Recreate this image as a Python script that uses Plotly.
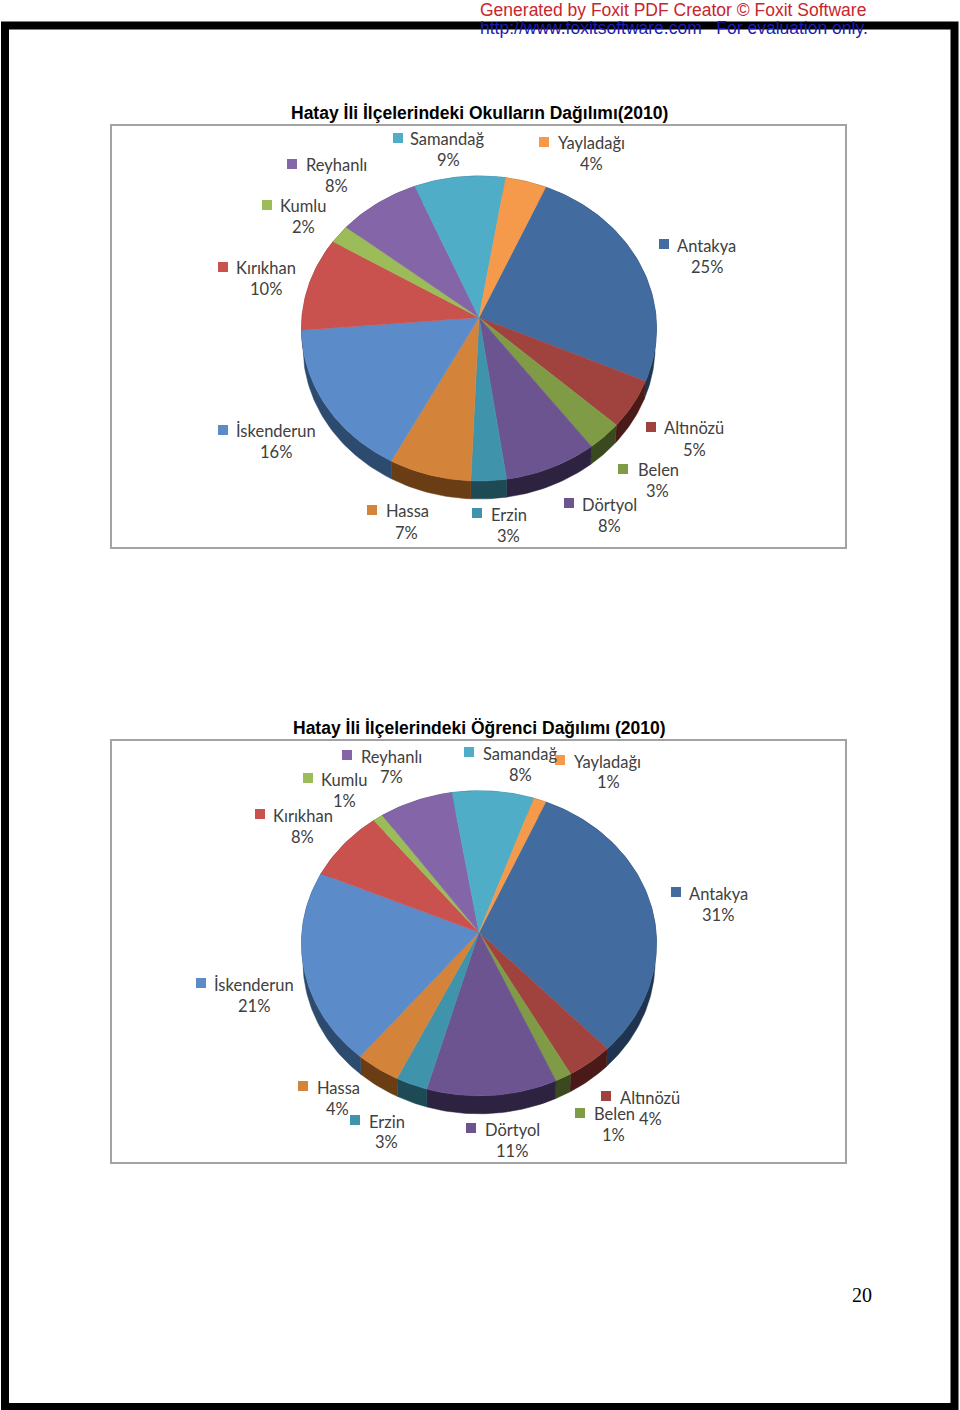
import math
import plotly.graph_objects as go

# districts in clockwise drawing order, starting from Antakya
districts = ['Antakya', 'Altınözü', 'Belen', 'Dörtyol', 'Erzin', 'Hassa',
             'İskenderun', 'Kırıkhan', 'Kumlu', 'Reyhanlı', 'Samandağ', 'Yayladağı']

school_share = [25.1, 5.1, 3.0, 7.9, 3.0, 7.0, 16.0, 10.0, 2.0, 8.0, 8.9, 4.0]
student_share = [31.4, 4.0, 1.4, 11.1, 2.7, 3.8, 20.6, 7.7, 1.0, 7.2, 8.0, 1.2]

top_colors = ['#426c9f', '#a0433f', '#7f9b45', '#6c5490', '#3f93ab', '#d4833b',
              '#5b8bc9', '#c9524f', '#9bbc59', '#8466a8', '#4fadc8', '#f5994a']
wall_colors = ['#1f3450', '#4a1a18', '#3b4a1e', '#2d2240', '#1e4a56', '#6a3d14',
               '#2d4a6f', '#6e2c2a', '#55682f', '#473860', '#2a6070', '#8a5525']

# legend anchors per chart: key x, y, name left x, name y, percent centre x, percent y
school_labels = [(664, 244, 677, 246, 707, 267), (651, 427, 664, 428, 694, 450),
                 (623, 469, 638, 470, 657, 491), (569, 503, 582, 505, 609, 526),
                 (477, 513, 491, 515, 508, 536), (372, 510, 386, 511, 406, 533),
                 (223, 430, 236, 431, 276, 452), (223, 267, 236, 268, 266, 289),
                 (267, 205, 280, 206, 303, 227), (292, 164, 306, 165, 336, 186),
                 (398, 138, 410, 139, 448, 160), (544, 142, 558, 143, 591, 164)]
student_labels = [(676, 892, 689, 894, 718, 915), (606, 1096, 620, 1098, 650, 1119),
                  (580, 1113, 594, 1114, 613, 1135), (471, 1128, 485, 1130, 512, 1151),
                  (355, 1120, 369, 1122, 386, 1142), (303, 1086, 317, 1088, 337, 1109),
                  (201, 983, 214, 985, 254, 1006), (260, 814, 273, 816, 302, 837),
                  (308, 778, 321, 780, 344, 801), (347, 755, 361, 757, 391, 777),
                  (469, 752, 483, 754, 520, 775), (560, 760, 574, 762, 608, 782)]

CX, RX, RY = 479, 177.5, 152.5
TILT = 0.072  # perspective pull of the pie centre towards the back edge
DEPTH = 18
START = 23.7
LABEL_FONT = dict(family='Lato', size=16.5, color='#404040')


def project(theta, cy):
    """Maps an angle on the flat disc to the tilted pie outline."""
    s, c = math.sin(theta), math.cos(theta)
    den = 1 + TILT * c
    return (CX + RX * s * math.sqrt(1 - TILT ** 2) / den,
            cy - RY * (c + TILT) / den)


def add_pie(fig, values, cy, labels):
    total = sum(values)
    edges = [math.radians(START)]
    for v in values:
        edges.append(edges[-1] + 2 * math.pi * v / total)

    arcs = []
    for i in range(len(values)):
        n = max(6, int(values[i] * 3))
        arcs.append([project(edges[i] + (edges[i + 1] - edges[i]) * k / n, cy)
                     for k in range(n + 1)])

    # side wall goes first so that the top surface covers its upper half
    for arc, color in zip(arcs, wall_colors):
        low = [(CX + (x - CX) * 0.992, y + DEPTH) for x, y in reversed(arc)]
        pts = arc + low + arc[:1]
        fig.add_trace(go.Scatter(x=[p[0] for p in pts], y=[p[1] for p in pts],
                                 mode='lines', fill='toself', fillcolor=color,
                                 line=dict(width=0.5, color=color), hoverinfo='skip'))
    apex = (CX, cy - RY * TILT)
    for arc, color in zip(arcs, top_colors):
        pts = [apex] + arc + [apex]
        fig.add_trace(go.Scatter(x=[p[0] for p in pts], y=[p[1] for p in pts],
                                 mode='lines', fill='toself', fillcolor=color,
                                 line=dict(width=0.5, color=color), hoverinfo='skip'))

    fig.add_trace(go.Scatter(x=[l[0] for l in labels], y=[l[1] for l in labels],
                             mode='markers', hoverinfo='skip',
                             marker=dict(symbol='square', size=10, color=top_colors,
                                         line=dict(width=0))))
    for name, v, l in zip(districts, values, labels):
        fig.add_annotation(x=l[2] - 2, y=l[3], text=name, xanchor='left', yanchor='middle',
                           showarrow=False, font=LABEL_FONT)
        fig.add_annotation(x=l[4], y=l[5], text=f'{round(v)}%', xanchor='center', yanchor='middle',
                           showarrow=False, font=LABEL_FONT)


fig = go.Figure()
add_pie(fig, school_share, 328.5, school_labels)
add_pie(fig, student_share, 943.3, student_labels)


def add_text(x, y, text, family, size, color, bold=False, anchor='center'):
    if bold:
        text = f'<b>{text}</b>'
    fig.add_annotation(x=x, y=y, text=text, xanchor=anchor, yanchor='middle', showarrow=False,
                       font=dict(family=family, size=size, color=color))


add_text(479, 113, 'Hatay İli İlçelerindeki Okulların Dağılımı(2010)', 'Liberation Sans', 17.5, '#000000', True)
add_text(479, 728, 'Hatay İli İlçelerindeki Öğrenci Dağılımı (2010)', 'Liberation Sans', 17.5, '#000000', True)
add_text(478, 10, 'Generated by Foxit PDF Creator © Foxit Software', 'Liberation Sans', 17.5, '#c8252c', anchor='left')
add_text(478, 28, 'http://www.foxitsoftware.com   For evaluation only.', 'Liberation Sans', 17.5, '#1a1ab4', anchor='left')
add_text(862, 1295, '20', 'Liberation Serif', 20, '#000000')

frame = dict(type='rect', xref='x', yref='y', line=dict(color='#a3a3a3', width=2), fillcolor='rgba(0,0,0,0)')
fig.update_layout(
    width=960, height=1410,
    margin=dict(l=0, r=0, t=0, b=0),
    paper_bgcolor='white', plot_bgcolor='white',
    showlegend=False,
    xaxis=dict(range=[0, 960], visible=False, fixedrange=True),
    yaxis=dict(range=[1410, 0], visible=False, fixedrange=True),
    shapes=[
        dict(type='rect', xref='x', yref='y', x0=5, y0=25.5, x1=954.5, y1=1407,
             line=dict(color='black', width=8), fillcolor='rgba(0,0,0,0)', layer='below'),
        dict(frame, x0=111, y0=125, x1=846, y1=548, layer='below'),
        dict(frame, x0=111, y0=740, x1=846, y1=1163, layer='below'),
    ],
)

fig.write_html("out.html", config=dict(displayModeBar=False),
               post_script="document.body.style.margin='0';document.body.style.overflow='hidden';")
